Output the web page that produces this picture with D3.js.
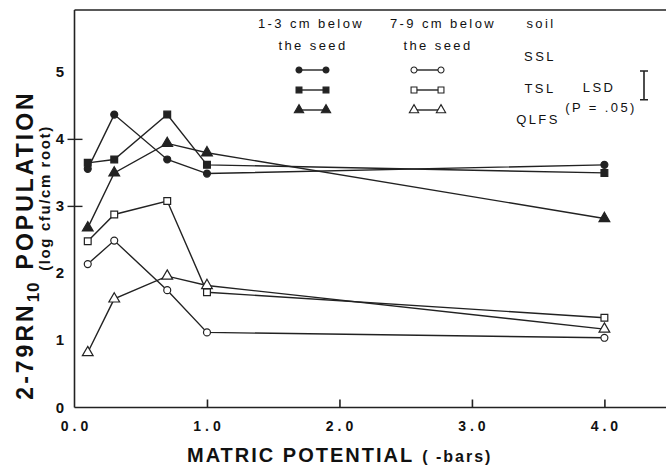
<!DOCTYPE html>
<html lang="en">
<head>
    <meta charset="utf-8"/>
    <style>
        body { margin: 0; background: #fff; }
        svg { font-family: "Liberation Sans", Arial, sans-serif; }
        path.line { fill: none; stroke: #222; stroke-width: 1.4px; }
        .axis line, .axis path { stroke: #222; stroke-width: 1.6px; }
        text { fill: #111; }
    </style>
    <script src="https://d3js.org/d3.v7.min.js" charset="utf-8"></script>
</head>
<body>
<svg id="chart" width="666" height="465"></svg>
<script>
    // matric potential (-bars) at which plants were sampled
    var potentials = [0.1, 0.3, 0.7, 1.0, 4.0];

    // log cfu/cm root, 1-3 cm below the seed (filled symbols)
    var sslUpper  = [3.56, 4.37, 3.70, 3.49, 3.62];
    var tslUpper  = [3.65, 3.70, 4.37, 3.62, 3.50];
    var qlfsUpper = [2.68, 3.50, 3.94, 3.80, 2.82];

    // log cfu/cm root, 7-9 cm below the seed (open symbols)
    var sslLower  = [2.14, 2.49, 1.75, 1.12, 1.04];
    var tslLower  = [2.48, 2.88, 3.08, 1.72, 1.34];
    var qlfsLower = [0.82, 1.62, 1.96, 1.82, 1.17];

    var xTicks = [0, 1, 2, 3, 4];
    var yTicks = [0, 1, 2, 3, 4, 5];
    var yTickMarks = [3, 4];
    var soils = ['SSL', 'TSL', 'QLFS'];
    var lsd = 0.43;

    var series = [
        {soil: 'SSL',  depth: 'upper', shape: d3.symbolCircle,   values: sslUpper},
        {soil: 'TSL',  depth: 'upper', shape: d3.symbolSquare,   values: tslUpper},
        {soil: 'QLFS', depth: 'upper', shape: d3.symbolTriangle, values: qlfsUpper},
        {soil: 'SSL',  depth: 'lower', shape: d3.symbolCircle,   values: sslLower},
        {soil: 'TSL',  depth: 'lower', shape: d3.symbolSquare,   values: tslLower},
        {soil: 'QLFS', depth: 'lower', shape: d3.symbolTriangle, values: qlfsLower}
    ];
    var symSize = {circle: 38, square: 46, triangle: 50};

    var svg = d3.select('#chart');
    var x = d3.scaleLinear().domain([0, 4.465]).range([74.5, 666]);
    var y = d3.scaleLinear().domain([0, 5.93]).range([407.5, 10]);

    function sizeOf(shape) {
        return shape === d3.symbolCircle ? symSize.circle :
            shape === d3.symbolSquare ? symSize.square : symSize.triangle;
    }

    // frame: top line + axes
    svg.append('line').attr('x1', x(0)).attr('x2', 666)
        .attr('y1', y.range()[1]).attr('y2', y.range()[1])
        .attr('stroke', '#222').attr('stroke-width', 1.6);

    var xAxis = svg.append('g').attr('class', 'axis')
        .attr('transform', 'translate(0,' + y(0) + ')')
        .call(d3.axisBottom(x).tickValues(xTicks.slice(1)).tickSize(-8).tickFormat(''));
    xAxis.select('.domain').attr('d', 'M' + x(0) + ',0H666');

    svg.append('line').attr('x1', x(0)).attr('x2', x(0))
        .attr('y1', y(0)).attr('y2', y.range()[1])
        .attr('stroke', '#222').attr('stroke-width', 1.6);
    svg.selectAll('line.ytick').data(yTickMarks).enter().append('line')
        .attr('x1', x(0) - 7).attr('x2', x(0) + 8)
        .attr('y1', function(d) { return y(d); })
        .attr('y2', function(d) { return y(d); })
        .attr('stroke', '#222').attr('stroke-width', 1.4);

    // tick labels
    svg.selectAll('text.xt').data(xTicks).enter().append('text')
        .attr('x', function(d) { return x(d) + 2; })
        .attr('y', 431)
        .attr('text-anchor', 'middle')
        .style('font-size', '14px').style('font-weight', 'bold')
        .style('letter-spacing', '4px')
        .text(function(d) { return d.toFixed(1); });

    svg.selectAll('text.yt').data(yTicks).enter().append('text')
        .attr('x', 60)
        .attr('y', function(d) { return y(d) + 5; })
        .attr('text-anchor', 'middle')
        .style('font-size', '15px').style('font-weight', 'bold')
        .text(function(d) { return d; });

    // axis titles
    var xt = svg.append('text').attr('x', 187).attr('y', 462)
        .style('font-weight', 'bold');
    xt.append('tspan').style('font-size', '20px').style('letter-spacing', '2px')
        .text('MATRIC POTENTIAL');
    xt.append('tspan').attr('dx', 8).style('font-size', '16px').style('letter-spacing', '2px')
        .text('( -bars)');

    var yt = svg.append('text')
        .attr('transform', 'translate(33,245) rotate(-90)')
        .attr('text-anchor', 'middle')
        .style('font-size', '23px').style('font-weight', 'bold').style('letter-spacing', '3px');
    yt.append('tspan').text('2-79RN');
    yt.append('tspan').attr('dy', 6).style('font-size', '17px').style('letter-spacing', '1px').text('10');
    yt.append('tspan').attr('dy', -6).attr('dx', 12).text('POPULATION');

    svg.append('text')
        .attr('transform', 'translate(50,198) rotate(-90)')
        .attr('text-anchor', 'middle')
        .style('font-size', '15px').style('font-weight', 'bold').style('letter-spacing', '1.6px')
        .text('(log cfu/cm root)');

    // data lines and symbols
    var line = d3.line()
        .x(function(d, i) { return x(potentials[i]); })
        .y(function(d) { return y(d); });

    var g = svg.selectAll('g.series').data(series).enter().append('g').attr('class', 'series');
    g.append('path').attr('class', 'line').attr('d', function(s) { return line(s.values); });
    g.each(function(s) {
        d3.select(this).selectAll('path.pt').data(s.values).enter().append('path')
            .attr('class', 'pt')
            .attr('transform', function(d, i) { return 'translate(' + x(potentials[i]) + ',' + y(d) + ')'; })
            .attr('d', d3.symbol().type(s.shape).size(sizeOf(s.shape)))
            .attr('fill', s.depth === 'upper' ? '#222' : '#fff')
            .attr('stroke', '#222').attr('stroke-width', 1.2);
    });

    // legend
    var legendFont = function(sel) {
        return sel.style('font-size', '13px').style('letter-spacing', '2.4px').attr('text-anchor', 'middle');
    };
    legendFont(svg.append('text').attr('x', 311).attr('y', 28).text('1-3 cm below'));
    legendFont(svg.append('text').attr('x', 313).attr('y', 50).text('the seed'));
    legendFont(svg.append('text').attr('x', 443).attr('y', 28).text('7-9 cm below'));
    legendFont(svg.append('text').attr('x', 438).attr('y', 50).text('the seed'));
    legendFont(svg.append('text').attr('x', 541).attr('y', 28).text('soil'));

    var rowY = [70, 90, 110];
    var labelY = [61, 93, 124];
    var labelX = [540, 540, 538];
    soils.forEach(function(soil, i) {
        legendFont(svg.append('text').attr('x', labelX[i]).attr('y', labelY[i]).text(soil));
    });

    series.forEach(function(s) {
        var r = soils.indexOf(s.soil);
        var x0 = s.depth === 'upper' ? 299 : 414;
        var x1 = x0 + 27;
        svg.append('line').attr('x1', x0).attr('x2', x1)
            .attr('y1', rowY[r]).attr('y2', rowY[r])
            .attr('stroke', '#222').attr('stroke-width', 1.4);
        [x0, x1].forEach(function(px) {
            svg.append('path')
                .attr('transform', 'translate(' + px + ',' + rowY[r] + ')')
                .attr('d', d3.symbol().type(s.shape).size(sizeOf(s.shape) * 0.75))
                .attr('fill', s.depth === 'upper' ? '#222' : '#fff')
                .attr('stroke', '#222').attr('stroke-width', 1.1);
        });
    });

    // LSD bar
    legendFont(svg.append('text').attr('x', 599).attr('y', 92).text('LSD'));
    legendFont(svg.append('text').attr('x', 601).attr('y', 112).style('letter-spacing', '1px').text('(P = .05)'));
    var lsdTop = 71;
    var lsdBottom = lsdTop + (y(0) - y(lsd));
    svg.append('path')
        .attr('d', 'M640,' + lsdTop + 'H648M644,' + lsdTop + 'V' + lsdBottom + 'M640,' + lsdBottom + 'H648')
        .attr('stroke', '#222').attr('stroke-width', 1.6).attr('fill', 'none');
</script>
</body>
</html>
